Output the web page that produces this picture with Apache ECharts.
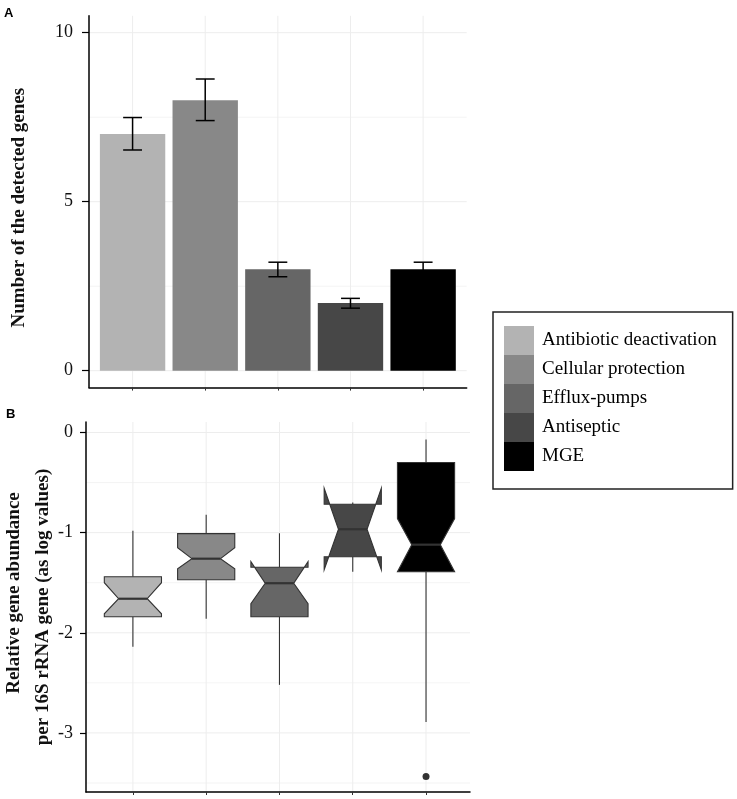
<!DOCTYPE html>
<html>
<head>
<meta charset="utf-8">
<script src="https://cdn.jsdelivr.net/npm/echarts@6/dist/echarts.min.js"></script>
<style>
html,body{margin:0;padding:0;background:#fff;}
#chart{width:737px;height:799px;}
</style>
</head>
<body>
<div id="chart"></div>
<script>
// ---- data ----
const categories = ['Antibiotic deactivation', 'Cellular protection', 'Efflux-pumps', 'Antiseptic', 'MGE'];
const categoryPositions = [1, 2, 3, 4, 5];

// Panel A: number of detected genes with error bars
const geneCounts = [7, 8, 3, 2, 3];
const countErrLow = [6.53, 7.40, 2.78, 1.85, 2.79];
const countErrHigh = [7.49, 8.63, 3.21, 2.14, 3.21];
const countTicks = [0, 5, 10];
const countMinorGrid = [2.5, 7.5];

// Panel B: notched boxplots (log relative abundance)
const whiskerLow = [-2.14, -1.86, -2.52, -1.39, -2.89];
const quartile1 = [-1.84, -1.47, -1.84, -1.24, -1.39];
const notchLow = [-1.81, -1.36, -1.71, -1.37, -1.39];
const medians = [-1.66, -1.26, -1.505, -0.966, -1.12];
const notchHigh = [-1.50, -1.15, -1.29, -0.557, -0.86];
const quartile3 = [-1.44, -1.01, -1.345, -0.717, -0.30];
const whiskerHigh = [-0.98, -0.82, -1.006, -0.70, -0.07];
const outlierPoints = [[5, -3.435]];
const abundTicks = [0, -1, -2, -3];
const abundMinorGrid = [-0.5, -1.5, -2.5, -3.5];

// ---- style ----
const fillColors = ['#b3b3b3', '#888888', '#666666', '#474747', '#000000'];
const serif = 'Liberation Serif';
const gridColor = '#ededed';

const chart = echarts.init(document.getElementById('chart'), null, {renderer: 'canvas'});

function gridLineItems(major, minor, verticals) {
  const d = [];
  major.forEach(v => d.push([0, v, 1]));
  minor.forEach(v => d.push([0, v, 0.6]));
  verticals.forEach(v => d.push([1, v, 1]));
  return d;
}

function renderGridLine(params, api) {
  const cs = params.coordSys;
  const kind = api.value(0), v = api.value(1), w = api.value(2);
  if (kind === 0) {
    const y = api.coord([1, v])[1];
    return {type: 'line', shape: {x1: cs.x, y1: y, x2: cs.x + cs.width, y2: y},
      style: {stroke: gridColor, lineWidth: w}, silent: true};
  }
  const x = api.coord([v, 0])[0];
  return {type: 'line', shape: {x1: x, y1: cs.y, x2: x, y2: cs.y + cs.height},
    style: {stroke: gridColor, lineWidth: w}, silent: true};
}

function makeBarRenderer(color) {
  return function (params, api) {
    const x = api.value(0), v = api.value(1), lo = api.value(2), hi = api.value(3);
    const p0 = api.coord([x - 0.45, v]);
    const p1 = api.coord([x + 0.45, 0]);
    const cx = api.coord([x, 0])[0];
    const capHalf = api.size([0.13, 0])[0];
    const yLo = api.coord([x, lo])[1], yHi = api.coord([x, hi])[1];
    const es = {stroke: '#000', lineWidth: 1.5};
    return {type: 'group', children: [
      {type: 'rect', shape: {x: p0[0], y: p0[1], width: p1[0] - p0[0], height: p1[1] - p0[1]},
        style: {fill: color}},
      {type: 'line', shape: {x1: cx, y1: yLo, x2: cx, y2: yHi}, style: es},
      {type: 'line', shape: {x1: cx - capHalf, y1: yHi, x2: cx + capHalf, y2: yHi}, style: es},
      {type: 'line', shape: {x1: cx - capHalf, y1: yLo, x2: cx + capHalf, y2: yLo}, style: es}
    ]};
  };
}

function makeBoxRenderer(color) {
  return function (params, api) {
    const x = api.value(0);
    const wl = api.value(1), q1 = api.value(2), nl = api.value(3), med = api.value(4),
          nu = api.value(5), q3 = api.value(6), wh = api.value(7);
    const Y = v => api.coord([x, v])[1];
    const cx = api.coord([x, med])[0];
    const hw = api.size([0.78, 0])[0] / 2;
    const xmin = cx - hw, xmax = cx + hw, ind = hw * 0.5;
    const ls = {stroke: '#333', lineWidth: 1.1};
    const pts = [
      [xmin, Y(q3)], [xmin, Y(nu)], [xmin + ind, Y(med)], [xmin, Y(nl)], [xmin, Y(q1)],
      [xmax, Y(q1)], [xmax, Y(nl)], [xmax - ind, Y(med)], [xmax, Y(nu)], [xmax, Y(q3)]
    ];
    return {type: 'group', children: [
      {type: 'line', shape: {x1: cx, y1: Y(q3), x2: cx, y2: Y(wh)}, style: ls},
      {type: 'line', shape: {x1: cx, y1: Y(q1), x2: cx, y2: Y(wl)}, style: ls},
      {type: 'polygon', shape: {points: pts}, style: {fill: color, stroke: '#333', lineWidth: 1.1}},
      {type: 'line', shape: {x1: xmin + ind, y1: Y(med), x2: xmax - ind, y2: Y(med)},
        style: {stroke: '#333', lineWidth: 2.2}}
    ]};
  };
}

const series = [];
series.push({
  type: 'custom', name: 'gridA', xAxisIndex: 0, yAxisIndex: 0, z: 0, silent: true,
  renderItem: renderGridLine,
  data: gridLineItems(countTicks, countMinorGrid, categoryPositions)
});
series.push({
  type: 'custom', name: 'gridB', xAxisIndex: 1, yAxisIndex: 1, z: 0, silent: true,
  renderItem: renderGridLine,
  data: gridLineItems(abundTicks, abundMinorGrid, categoryPositions)
});
categories.forEach((name, i) => {
  series.push({
    type: 'custom', name: name, xAxisIndex: 0, yAxisIndex: 0, z: 2,
    itemStyle: {color: fillColors[i]},
    renderItem: makeBarRenderer(fillColors[i]),
    data: [[categoryPositions[i], geneCounts[i], countErrLow[i], countErrHigh[i]]]
  });
  series.push({
    type: 'custom', name: name, xAxisIndex: 1, yAxisIndex: 1, z: 2,
    itemStyle: {color: fillColors[i]},
    renderItem: makeBoxRenderer(fillColors[i]),
    data: [[categoryPositions[i], whiskerLow[i], quartile1[i], notchLow[i], medians[i],
            notchHigh[i], quartile3[i], whiskerHigh[i]]]
  });
});
series.push({
  type: 'scatter', name: 'outliers', xAxisIndex: 1, yAxisIndex: 1, z: 3,
  symbolSize: 7, itemStyle: {color: '#000'}, data: outlierPoints
});

const axisLineStyle = {show: true, onZero: false, lineStyle: {color: '#000', width: 1.5}};
const tickLabelStyle = {fontFamily: serif, fontSize: 18, color: '#111'};
const nameFont = {fontFamily: serif, fontSize: 19, fontWeight: 'bold', color: '#111', lineHeight: 29};

const option = {
  animation: false,
  backgroundColor: '#fff',
  title: [
    {text: 'A', left: 4, top: 7, padding: 0,
      textStyle: {fontFamily: 'Liberation Sans', fontWeight: 'bold', fontSize: 13, color: '#000'}},
    {text: 'B', left: 6, top: 408, padding: 0,
      textStyle: {fontFamily: 'Liberation Sans', fontWeight: 'bold', fontSize: 13, color: '#000'}}
  ],
  grid: [
    {left: 89, top: 15.8, width: 377.7, height: 371.8, outerBoundsMode: 'none', containLabel: false},
    {left: 86, top: 422, width: 384, height: 370, outerBoundsMode: 'none', containLabel: false}
  ],
  legend: {
    data: categories,
    orient: 'vertical',
    left: 493, top: 312,
    padding: [14, 16, 18, 11],
    itemGap: 0,
    itemWidth: 30, itemHeight: 29,
    icon: 'rect',
    selectedMode: false,
    borderColor: '#222', borderWidth: 1.5,
    textStyle: {fontFamily: serif, fontSize: 19, color: '#000', lineHeight: 29, padding: [0, 0, 0, 3]}
  },
  xAxis: [
    {type: 'value', gridIndex: 0, min: 0.4, max: 5.6,
      axisLine: axisLineStyle,
      axisTick: {show: true, customValues: categoryPositions, length: 3, lineStyle: {color: '#333'}},
      axisLabel: {show: false}, splitLine: {show: false}},
    {type: 'value', gridIndex: 1, min: 0.36, max: 5.6,
      axisLine: axisLineStyle,
      axisTick: {show: true, customValues: categoryPositions, length: 3, lineStyle: {color: '#333'}},
      axisLabel: {show: false}, splitLine: {show: false}}
  ],
  yAxis: [
    {type: 'value', gridIndex: 0, min: -0.5, max: 10.5,
      axisLine: axisLineStyle,
      axisTick: {show: true, customValues: countTicks, length: 7, lineStyle: {color: '#000', width: 1.2}},
      axisLabel: Object.assign({customValues: countTicks, margin: 16}, tickLabelStyle),
      splitLine: {show: false},
      name: 'Number of the detected genes', nameLocation: 'middle', nameGap: 55, nameMoveOverlap: false,
      nameTextStyle: Object.assign({padding: [0, 12, 0, 0]}, nameFont)},
    {type: 'value', gridIndex: 1, min: -3.59, max: 0.105,
      axisLine: axisLineStyle,
      axisTick: {show: true, customValues: abundTicks, length: 6, lineStyle: {color: '#000', width: 1.2}},
      axisLabel: Object.assign({customValues: abundTicks, margin: 13}, tickLabelStyle),
      splitLine: {show: false},
      name: '{a|Relative gene abundance}\n{b|per 16S rRNA gene (as log values)}',
      nameLocation: 'middle', nameGap: 28,
      nameMoveOverlap: false,
      nameTextStyle: Object.assign({
        rich: {
          a: Object.assign({padding: [0, 0, 0, 28]}, nameFont),
          b: Object.assign({}, nameFont)
        }
      }, nameFont)}
  ],
  series: series
};
chart.setOption(option);
</script>
</body>
</html>
